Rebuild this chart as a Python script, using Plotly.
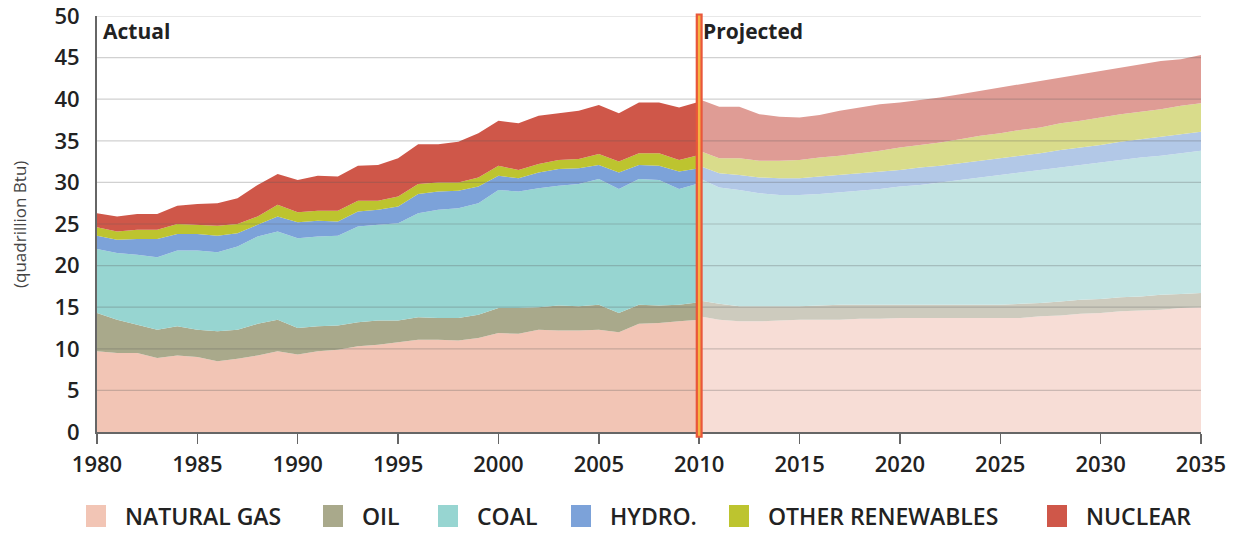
import plotly.graph_objects as go

# ---------------- data ----------------
years_actual = list(range(1980, 2011))
years_proj = list(range(2010, 2036))

gas_actual = [9.7, 9.5, 9.5, 8.9, 9.2, 9.0, 8.5, 8.8, 9.2, 9.7, 9.3, 9.7, 9.9, 10.3, 10.5, 10.8,
              11.1, 11.1, 11.0, 11.3, 11.9, 11.8, 12.3, 12.2, 12.2, 12.3, 12.0, 13.0, 13.1, 13.3, 13.5]
oil_actual = [4.6, 4.0, 3.4, 3.4, 3.5, 3.3, 3.6, 3.5, 3.8, 3.8, 3.2, 3.0, 2.9, 2.9, 2.9, 2.6,
              2.7, 2.6, 2.7, 2.8, 3.0, 3.1, 2.7, 3.0, 2.9, 3.0, 2.3, 2.3, 2.1, 2.0, 2.1]
coal_actual = [7.7, 8.0, 8.4, 8.7, 9.1, 9.5, 9.5, 10.0, 10.5, 10.6, 10.8, 10.8, 10.8, 11.5, 11.5, 11.7,
               12.5, 13.0, 13.2, 13.4, 14.2, 14.0, 14.3, 14.4, 14.7, 15.1, 14.9, 15.1, 15.1, 13.9, 14.3]
hydro_actual = [1.6, 1.6, 1.9, 2.2, 2.0, 2.0, 2.0, 1.6, 1.4, 1.8, 1.9, 1.9, 1.7, 1.8, 1.8, 2.0,
                2.3, 2.2, 2.1, 2.0, 1.7, 1.6, 1.9, 2.0, 1.9, 1.7, 2.0, 1.7, 1.7, 2.1, 1.8]
ren_actual = [1.0, 1.0, 1.1, 1.1, 1.2, 1.1, 1.2, 1.1, 1.0, 1.4, 1.2, 1.2, 1.3, 1.3, 1.1, 1.2,
              1.2, 1.1, 1.0, 1.1, 1.2, 1.0, 1.0, 1.1, 1.1, 1.3, 1.3, 1.4, 1.5, 1.4, 1.6]
nuc_actual = [1.7, 1.8, 1.9, 1.9, 2.2, 2.5, 2.7, 3.1, 3.8, 3.7, 3.9, 4.2, 4.1, 4.2, 4.3, 4.6,
              4.8, 4.6, 4.9, 5.3, 5.4, 5.6, 5.8, 5.6, 5.8, 5.9, 5.8, 6.1, 6.1, 6.3, 6.4]

gas_proj = [13.9, 13.5, 13.3, 13.3, 13.4, 13.5, 13.5, 13.5, 13.6, 13.6, 13.7, 13.7, 13.7,
            13.7, 13.7, 13.7, 13.7, 13.9, 14.0, 14.2, 14.3, 14.5, 14.6, 14.7, 14.9, 15.0]
oil_proj = [1.9, 1.9, 1.8, 1.8, 1.7, 1.6, 1.7, 1.8, 1.7, 1.7, 1.6, 1.6, 1.6,
            1.6, 1.6, 1.6, 1.7, 1.6, 1.7, 1.7, 1.7, 1.7, 1.7, 1.8, 1.7, 1.7]
coal_proj = [14.7, 14.0, 14.0, 13.6, 13.4, 13.4, 13.4, 13.5, 13.7, 13.9, 14.2, 14.4, 14.7,
             15.0, 15.3, 15.6, 15.8, 16.0, 16.1, 16.2, 16.4, 16.5, 16.7, 16.7, 16.9, 17.1]
hydro_proj = [1.5, 1.7, 1.8, 1.9, 2.0, 2.0, 2.1, 2.1, 2.1, 2.1, 2.0, 2.1, 2.0,
              2.0, 2.0, 2.0, 2.0, 2.0, 2.1, 2.1, 2.1, 2.2, 2.2, 2.3, 2.3, 2.3]
ren_proj = [1.8, 1.8, 2.0, 2.0, 2.1, 2.2, 2.3, 2.3, 2.4, 2.5, 2.7, 2.7, 2.8,
            2.9, 3.0, 3.0, 3.1, 3.1, 3.2, 3.2, 3.3, 3.3, 3.3, 3.3, 3.4, 3.4]
nuc_proj = [6.2, 6.2, 6.2, 5.6, 5.3, 5.1, 5.1, 5.4, 5.5, 5.6, 5.4, 5.4, 5.4,
            5.4, 5.4, 5.5, 5.5, 5.6, 5.5, 5.6, 5.6, 5.6, 5.7, 5.8, 5.6, 5.8]

series_names = ["NATURAL GAS", "OIL", "COAL", "HYDRO.", "OTHER RENEWABLES", "NUCLEAR"]
actual_series = [gas_actual, oil_actual, coal_actual, hydro_actual, ren_actual, nuc_actual]
proj_series = [gas_proj, oil_proj, coal_proj, hydro_proj, ren_proj, nuc_proj]
actual_colors = ["#F2C5B5", "#A9A98B", "#97D5D1", "#7CA2D9", "#BDC42F", "#CF5749"]
proj_colors = ["#F7DDD6", "#CDCBBE", "#C3E4E3", "#B2C8E7", "#D9DC8B", "#DF9C95"]

x_ticks = list(range(1980, 2036, 5))
y_ticks = list(range(0, 51, 5))
section_labels = ["Actual", "Projected"]
divider_year = 2010

FONT = "Open Sans"
TXT = "#222222"
AX = "#666666"

# page geometry (body margin removed via post_script)
W, H = 1242, 533
PL, PR, PT, PB = 97, 1201, 16, 432          # plot area in page pixels
L, T = PL, PT
pw, ph = PR - PL, PB - PT
R = W - L - pw
B = H - T - ph


def px_to_paper_x(px):
    return (px - L) / pw


def py_to_paper_y(py):
    return (T + ph - py) / ph


fig = go.Figure()
for name, vals, col in zip(series_names, actual_series, actual_colors):
    fig.add_trace(go.Scatter(x=years_actual, y=vals, name=name, stackgroup="actual",
                             mode="lines", line=dict(width=0), fillcolor=col,
                             hoverinfo="skip", showlegend=False))
for name, vals, col in zip(series_names, proj_series, proj_colors):
    fig.add_trace(go.Scatter(x=years_proj, y=vals, name=name, stackgroup="proj",
                             mode="lines", line=dict(width=0), fillcolor=col,
                             hoverinfo="skip", showlegend=False))

# gridlines drawn above the areas (semi-transparent)
for v in y_ticks[1:]:
    fig.add_shape(type="line", xref="paper", yref="y", x0=0, x1=1, y0=v, y1=v,
                  line=dict(color="rgba(90,90,90,0.28)", width=1.2), layer="above")

# divider line
fig.add_shape(type="line", xref="x", yref="paper", x0=divider_year, x1=divider_year,
              y0=-0.014, y1=1.006, line=dict(color="#E9573B", width=7), layer="above")
fig.add_shape(type="line", xref="x", yref="paper", x0=divider_year, x1=divider_year,
              y0=-0.009, y1=1.001, line=dict(color="#F6B443", width=2.5), layer="above")

# section labels
fig.add_annotation(x=x_ticks[0], xref="x", y=py_to_paper_y(31), yref="paper", text=section_labels[0],
                   showarrow=False, xanchor="left", yanchor="middle", xshift=4,
                   font=dict(family=FONT, size=21, color=TXT, weight="bold"))
fig.add_annotation(x=divider_year, xref="x", y=py_to_paper_y(31), yref="paper", text=section_labels[1],
                   showarrow=False, xanchor="left", yanchor="middle", xshift=2,
                   font=dict(family=FONT, size=21, color=TXT, weight="bold"))

# y-axis title
fig.add_annotation(x=px_to_paper_x(19), xref="paper", y=py_to_paper_y(225), yref="paper",
                   text="(quadrillion Btu)", showarrow=False, textangle=-90,
                   xanchor="center", yanchor="middle",
                   font=dict(family=FONT, size=17, color="#444444"))

# custom legend
legend_text_x = [123, 360, 475, 608, 766, 1084]
for name, col, tx in zip(series_names, actual_colors, legend_text_x):
    fig.add_shape(type="rect", xref="paper", yref="paper",
                  x0=px_to_paper_x(tx - 37), x1=px_to_paper_x(tx - 17),
                  y0=py_to_paper_y(527), y1=py_to_paper_y(505),
                  fillcolor=col, line=dict(width=0))
    fig.add_annotation(x=px_to_paper_x(tx), xref="paper", y=py_to_paper_y(516), yref="paper",
                       text=name, showarrow=False, xanchor="left", yanchor="middle",
                       font=dict(family=FONT, size=23, color=TXT, weight=600))

fig.update_layout(
    template="none",
    width=W, height=H,
    margin=dict(l=L, r=R, t=T, b=B, pad=0, autoexpand=False),
    paper_bgcolor="white", plot_bgcolor="white",
    font=dict(family=FONT, size=21, color=TXT),
    showlegend=False,
    xaxis=dict(range=[1980, 2035], tickvals=x_ticks, ticktext=[str(v) for v in x_ticks],
               showgrid=False, zeroline=False, showline=True, linecolor=AX, linewidth=2,
               ticks="outside", ticklen=10, tickwidth=1.5, tickcolor=AX,
               ticklabelstandoff=2, automargin=False, ticklabeloverflow="allow",
               tickfont=dict(family=FONT, size=22, color=TXT, weight=600), layer="above traces"),
    yaxis=dict(range=[0, 50], tickvals=y_ticks, showgrid=False, zeroline=False,
               showline=True, linecolor=AX, linewidth=2, ticks="",
               ticklabelstandoff=11, automargin=False, ticklabeloverflow="allow",
               tickfont=dict(family=FONT, size=22, color=TXT, weight=600), layer="above traces"),
)

fig.write_html("out.html", config={"displayModeBar": False, "staticPlot": True},
               post_script="document.body.style.margin='0px';document.body.style.overflow='hidden';")
